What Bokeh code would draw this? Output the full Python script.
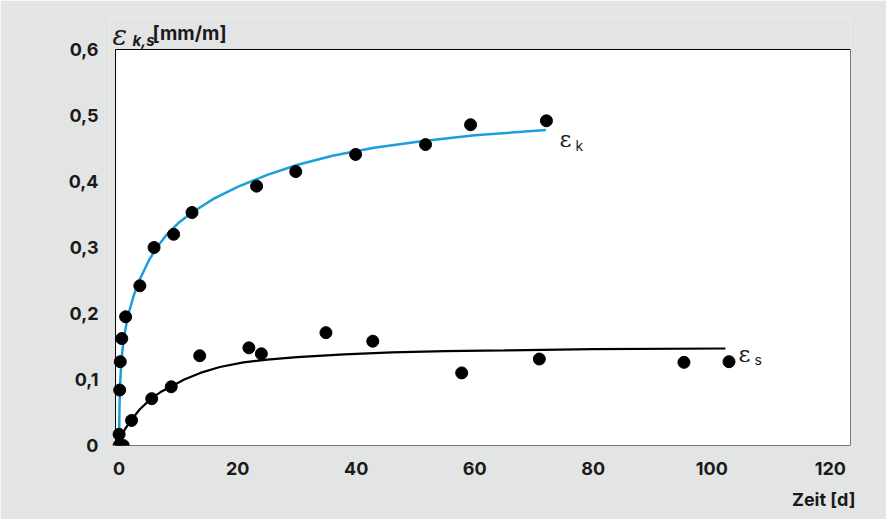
from bokeh.plotting import figure
from bokeh.models import Range1d, FixedTicker, CustomJSTickFormatter, Label, BoxAnnotation, Title
from bokeh.embed import file_html
from bokeh.resources import INLINE

# measured points
ek_t = [0, 0.1, 0.2, 0.45, 1.1, 3.5, 5.9, 9.2, 12.3, 23.2, 29.8, 39.9, 51.7, 59.3, 72.1]
ek_v = [0.0, 0.084, 0.127, 0.162, 0.195, 0.242, 0.300, 0.320, 0.353, 0.393, 0.415, 0.441, 0.456, 0.486, 0.492]
es_t = [0, 0.7, 2.1, 5.5, 8.8, 13.6, 21.9, 24.0, 34.9, 42.8, 57.8, 70.9, 95.3, 102.9]
es_v = [0.017, 0.0, 0.038, 0.071, 0.089, 0.136, 0.148, 0.139, 0.171, 0.158, 0.110, 0.131, 0.126, 0.127]

# fitted curves
ek_fit_t = [0, 0.05, 0.15, 0.4, 0.8, 1.5, 2.5, 3.5, 5, 6.5, 8, 10, 12.3, 16, 20, 25, 30, 36, 43, 51, 60, 72]
ek_fit_v = [0, 0.05, 0.09, 0.13, 0.163, 0.197, 0.228, 0.252, 0.280, 0.302, 0.319, 0.337, 0.353, 0.374,
            0.392, 0.410, 0.425, 0.439, 0.451, 0.461, 0.470, 0.478]
es_fit_t = [0, 0.3, 1, 2.1, 3.5, 5.4, 7, 8.7, 11, 13.7, 17, 21, 25, 30, 38, 46, 55, 65, 80, 102.3]
es_fit_v = [0, 0.012, 0.025, 0.039, 0.055, 0.071, 0.081, 0.089, 0.100, 0.110, 0.119, 0.126, 0.130,
            0.134, 0.138, 0.141, 0.143, 0.144, 0.146, 0.147]

x_ticks = [0, 20, 40, 60, 80, 100, 120]
y_ticks = [0, 0.1, 0.2, 0.3, 0.4, 0.5, 0.6]

GRAY = "#e3e4e4"
FONT = "Inter"
TXT = "#1a1a1a"
W, H = 886, 519

# plot box limits (white area) and the extended frame
X0, X1, Y0, Y1 = -0.6, 123.4, 0.0, 0.6
FX0, FY1 = -1.62, 0.6485

p = figure(width=W, height=H, output_backend="svg", toolbar_location=None,
           x_range=Range1d(FX0, X1), y_range=Range1d(Y0, FY1),
           min_border_left=109, min_border_right=36, min_border_top=17, min_border_bottom=74)
p.border_fill_color = GRAY
p.background_fill_color = GRAY
p.outline_line_color = None
p.grid.visible = False

p.add_layout(BoxAnnotation(left=X0, right=X1, bottom=Y0, top=Y1, fill_color="white", fill_alpha=1.0,
                           line_color="black", line_width=1, line_alpha=1.0, level="underlay"))

for ax in (p.xaxis[0], p.yaxis[0]):
    ax.axis_line_color = None
    ax.major_tick_line_color = None
    ax.minor_tick_line_color = None
    ax.major_tick_out = 0
    ax.major_tick_in = 0
    ax.major_label_text_font = FONT
    ax.major_label_text_font_style = "bold"
    ax.major_label_text_font_size = "18px"
    ax.major_label_text_color = TXT

p.xaxis.ticker = FixedTicker(ticks=x_ticks)
p.yaxis.ticker = FixedTicker(ticks=y_ticks)
p.xaxis.major_label_standoff = 16
p.yaxis.major_label_standoff = 11
p.yaxis.formatter = CustomJSTickFormatter(code="""
    return tick == 0 ? "0" : tick.toFixed(1).replace(".", ",");
""")

p.line(ek_fit_t, ek_fit_v, line_color="#1a9fdc", line_width=2.5)
p.line(es_fit_t, es_fit_v, line_color="black", line_width=2.2)
p.scatter(ek_t, ek_v, size=12, color="black")
p.scatter(es_t, es_v, size=12, color="black")

# x-axis title, right aligned below the axis
p.add_layout(Title(text="Zeit [d]", align="right", text_font=FONT, text_font_size="18px",
                   text_font_style="bold", text_color=TXT, offset=-5, standoff=18), "below")

# annotations inside the (extended) frame, positioned from page pixels
FL, FR, FB = 117, 858, 453
def dx(px):
    return FX0 + (px - FL) * (X1 - FX0) / (FR - FL)

def dy(py):
    return (FB - py) / 660.0

def lab(text, px, py, size, style="normal", font=FONT, align="left"):
    p.add_layout(Label(x=dx(px), y=dy(py), text=text, text_font=font, text_font_size=size,
                       text_font_style=style, text_align=align, text_baseline="middle",
                       text_color=TXT))

# y-axis title
lab("ε", 120, 43, "27px", style="italic", font="DejaVu Serif")
lab("k,s", 140, 48, "15px", style="bold italic")
lab("[mm/m]", 160, 41, "19px", style="bold")
# curve labels
lab("ε", 567, 146, "23px", font="DejaVu Serif")
lab("k", 583, 153, "14px")
lab("ε", 746, 361, "23px", font="DejaVu Serif")
lab("s", 762, 367, "14px")

open("out.html", "w").write(file_html(p, INLINE))
